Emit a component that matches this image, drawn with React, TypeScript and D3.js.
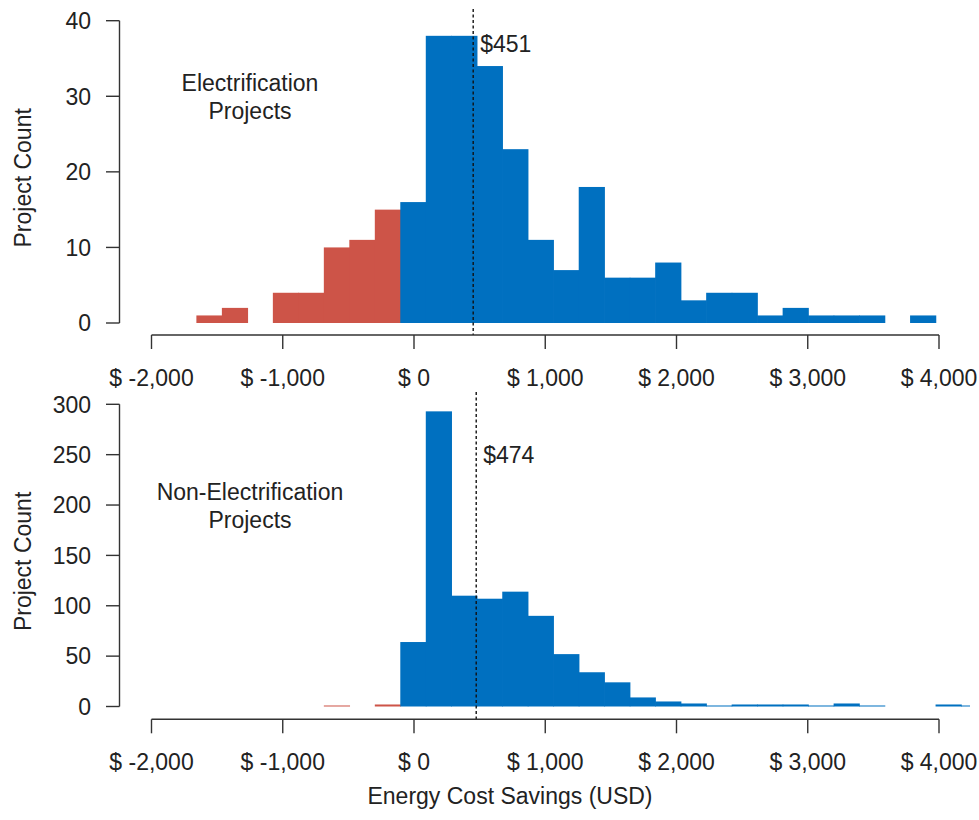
import React from "react";
import * as d3 from "d3";

// histogram bins (USD), shared by both panels
const binStart = -1658;
const binWidth = 194.2;

const electrificationCounts = [
  1, 2, 0, 4, 4, 10, 11, 15, 16, 38, 38, 34, 23, 11, 7, 18, 6, 6, 8, 3, 4, 4, 1, 2, 1, 1, 1, 0, 1,
];
const nonElectrificationCounts = [
  0, 0, 0, 0, 0, 1, 0, 2, 64, 293, 110, 107, 114, 90, 52, 34, 24, 9, 5, 3, 1, 2, 2, 2, 1, 3, 1, 0, 0, 2, 1,
];

const xTicks = [-2000, -1000, 0, 1000, 2000, 3000, 4000];
const topYTicks = [0, 10, 20, 30, 40];
const bottomYTicks = [0, 50, 100, 150, 200, 250, 300];

const medians = { electrification: 451, nonElectrification: 474 };

const BLUE = "#0070C0";
const RED = "#CD5448";
const FONT = "'Liberation Sans', Arial, Helvetica, sans-serif";
const FS = 23;

const locale = d3.formatLocale({
  decimal: ".",
  thousands: ",",
  grouping: [3],
  currency: ["$", ""],
  minus: "-",
});
const fmt = locale.format(",");

const x = d3.scaleLinear().domain([-2000, 4000]).range([151.5, 939]);

type PanelProps = {
  counts: number[];
  yMax: number;
  yRange: [number, number];
  yTicks: number[];
  axisY: number;
  lineTop: number;
  median: number;
  medianLabelY: number;
  labelLines: string[];
  labelY: number;
  clipId: string;
};

const Panel = ({
  counts,
  yMax,
  yRange,
  yTicks,
  axisY,
  lineTop,
  median,
  medianLabelY,
  labelLines,
  labelY,
  clipId,
}: PanelProps) => {
  const y = d3.scaleLinear().domain([0, yMax]).range(yRange);
  const bins = counts.map((c, i) => ({
    x0: binStart + i * binWidth,
    x1: binStart + (i + 1) * binWidth,
    count: c,
  }));
  const yAxisX = 119.5;

  return (
    <g>
      <defs>
        <clipPath id={clipId}>
          <rect x={0} y={0} width={970} height={820} />
        </clipPath>
      </defs>
      <g clipPath={`url(#${clipId})`}>
        {bins
          .filter((b) => b.count > 0)
          .map((b, i) => (
            <rect
              key={i}
              x={x(b.x0)}
              y={y(b.count)}
              width={x(b.x1) - x(b.x0) + 0.7}
              height={y(0) - y(b.count)}
              fill={b.x1 <= 0 ? RED : BLUE}
            />
          ))}
      </g>

      {/* median line */}
      <line
        x1={x(median)}
        x2={x(median)}
        y1={lineTop}
        y2={axisY}
        stroke="#111"
        strokeWidth={1.4}
        strokeDasharray="3,2.5"
      />
      <text x={x(median) + 7} y={medianLabelY} fontSize={FS} fill="#222">
        {`$${median}`}
      </text>

      {/* x axis */}
      <line x1={x(-2000)} x2={x(4000)} y1={axisY} y2={axisY} stroke="#333" strokeWidth={1.4} />
      {xTicks.map((t) => (
        <g key={t}>
          <line x1={x(t)} x2={x(t)} y1={axisY} y2={axisY + 14} stroke="#333" strokeWidth={1.4} />
          <text x={x(t)} y={axisY + 50.5} textAnchor="middle" fontSize={FS} fill="#222">
            {`$ ${fmt(t)}`}
          </text>
        </g>
      ))}

      {/* y axis */}
      <line x1={yAxisX} x2={yAxisX} y1={y(0)} y2={y(yMax)} stroke="#333" strokeWidth={1.4} />
      {yTicks.map((t) => (
        <g key={t}>
          <line x1={106} x2={yAxisX} y1={y(t)} y2={y(t)} stroke="#333" strokeWidth={1.4} />
          <text x={91} y={y(t)} dy="0.36em" textAnchor="end" fontSize={FS} fill="#222">
            {t}
          </text>
        </g>
      ))}
      <text
        transform={`translate(31,${(y(0) + y(yMax)) / 2 + 6}) rotate(-90)`}
        textAnchor="middle"
        fontSize={FS}
        fill="#222"
      >
        Project Count
      </text>

      {/* panel label */}
      {labelLines.map((l, i) => (
        <text key={l} x={250} y={labelY + i * 28} textAnchor="middle" fontSize={FS} fill="#222">
          {l}
        </text>
      ))}
    </g>
  );
};

export default function App() {
  return (
    <svg
      width={979}
      height={820}
      style={{ position: "absolute", left: 0, top: 0, background: "#fff" }}
      fontFamily={FONT}
    >
      <rect width={979} height={820} fill="#fff" />
      <Panel
        counts={electrificationCounts}
        yMax={40}
        yRange={[323, 20.7]}
        yTicks={topYTicks}
        axisY={335}
        lineTop={9}
        median={medians.electrification}
        medianLabelY={52}
        labelLines={["Electrification", "Projects"]}
        labelY={91}
        clipId="clipTop"
      />
      <Panel
        counts={nonElectrificationCounts}
        yMax={300}
        yRange={[706.5, 404.3]}
        yTicks={bottomYTicks}
        axisY={719.3}
        lineTop={392}
        median={medians.nonElectrification}
        medianLabelY={463}
        labelLines={["Non-Electrification", "Projects"]}
        labelY={500}
        clipId="clipBottom"
      />
      <text x={510} y={804} textAnchor="middle" fontSize={FS} fill="#222">
        Energy Cost Savings (USD)
      </text>
    </svg>
  );
}
